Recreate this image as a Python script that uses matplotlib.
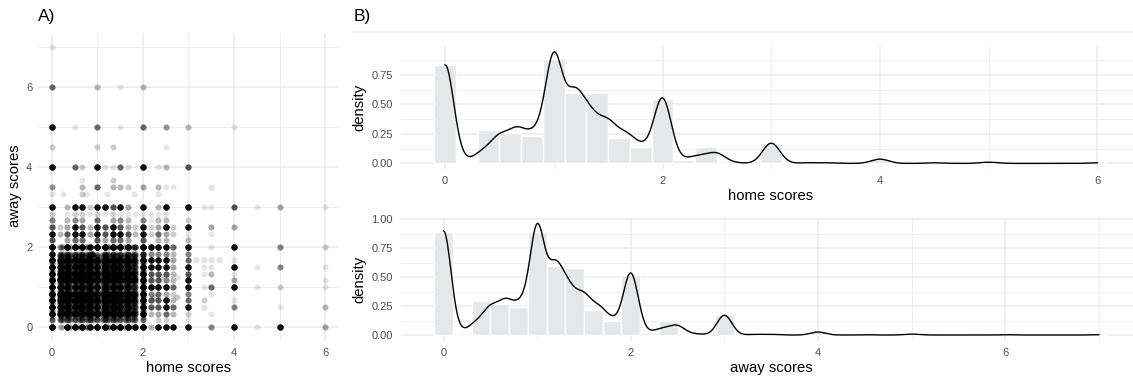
import numpy as np
import matplotlib
matplotlib.use("Agg")
import matplotlib.pyplot as plt
from matplotlib.ticker import MultipleLocator, FormatStrFormatter
from matplotlib.lines import Line2D

plt.rcParams['font.family'] = ['Liberation Sans', 'DejaVu Sans']

W, H = 1133, 380
GRID = '#ebebeb'
TICK = '#4d4d4d'
BAR = '#e6e7e9'

# ---------------------------------------------------------------------------
# Scatter data: average home / away scores per record
# ---------------------------------------------------------------------------
# values found in the dense 0..2 block (used for both axes)
core_vals = [0, 1/6, 1/5, 1/4, 1/3, 3/8, 2/5, 1/2, 3/5, 5/8, 2/3, 3/4, 4/5,
             5/6, 7/8, 9/10, 1, 11/10, 9/8, 7/6, 6/5, 5/4, 4/3, 11/8, 7/5,
             3/2, 8/5, 13/8, 5/3, 7/4, 9/5, 11/6, 2]

# records per cell of one away row, one character per home value in core_vals
# order.  Digits are counts, A = 15, B = 25, C = 40.
ROW_2 = "C444C14C41" "C45B11C11C" "55C14C41C4" "3AC"
ROW_11_6 = "B333813831" "8338A11118" "3381383183" "25A"
ROW_EDGE = "3633723732" "7337227227" "3372373273" "344"
ROW_SIXTH = "CB99C49C94" "C99C44C44C" "99C49C94C7" "69C"
ROW_FIFTH = "5866936963" "9669339339" "6693696395" "456"
ROW_EIGHTH = "3433523532" "5335225225" "3352353253" "234"
ROW_LOW = "3222412421" "4224114114" "2241242142" "223"
ROW_1_6 = "6433623632" "6336226226" "3362363263" "335"
ROW_0 = "C131C14C41" "C46B11C11C" "54C14C41C3" "3BC"

core_away = [2, 11/6, 9/5, 7/4, 5/3, 13/8, 8/5, 3/2, 7/5, 11/8, 4/3, 5/4,
             6/5, 7/6, 9/8, 11/10, 1, 9/10, 7/8, 5/6, 4/5, 3/4, 2/3, 5/8,
             3/5, 1/2, 2/5, 3/8, 1/3, 1/4, 1/5, 1/6, 0]
core_counts = [ROW_2, ROW_11_6, ROW_EDGE, ROW_EDGE, ROW_SIXTH, ROW_EIGHTH,
               ROW_FIFTH, ROW_SIXTH, ROW_FIFTH, ROW_EIGHTH, ROW_SIXTH,
               ROW_FIFTH, ROW_FIFTH, ROW_SIXTH, ROW_EIGHTH, ROW_EIGHTH,
               ROW_SIXTH, ROW_EIGHTH, ROW_EIGHTH, ROW_SIXTH, ROW_FIFTH,
               ROW_FIFTH, ROW_SIXTH, ROW_EIGHTH, ROW_FIFTH, ROW_SIXTH,
               ROW_FIFTH, ROW_EIGHTH, ROW_SIXTH, ROW_LOW, ROW_LOW, ROW_1_6,
               ROW_0]

# records outside the dense block, row by row (away value in the comment)
outer_home = [
    0,                                                                  # 7
    0, 1, 3/2, 2,                                                       # 6
    0, 1/2, 1, 3/2, 2, 5/2, 3, 4,                                       # 5
    0, 1, 4/3, 5/2,                                                     # 9/2
    0, 1/2, 2/3, 1, 7/6, 4/3, 3/2, 5/3, 2, 7/3, 5/2, 3,                 # 4
    2/3, 4/3,                                                           # 11/3
    0, 2/3, 1, 4/3, 3/2, 5/3, 2, 7/3, 5/2, 8/3, 7/2,                    # 7/2
    0, 1/4, 2/3, 3/4, 6/5, 9/5, 7/3,                                    # 10/3
    0, 1/3, 1/2, 2/3, 5/6, 1, 7/6, 4/3, 3/2, 5/3, 2, 7/3, 5/2, 3,
    10/3, 7/2, 4, 9/2, 5, 6,                                            # 3
    0, 1/3, 1/2, 2/3, 5/6, 1, 7/6, 4/3, 3/2, 5/3, 11/6, 2, 13/6, 7/3,
    5/2,                                                                # 17/6
    0, 1/3, 1/2, 2/3, 1, 4/3, 3/2, 5/3, 2, 13/6, 7/3, 5/2, 3,           # 8/3
    0, 1/6, 1/3, 1/2, 2/3, 5/6, 1, 7/6, 4/3, 3/2, 5/3, 11/6, 2, 13/6,
    7/3, 5/2, 8/3, 3, 7/2, 4,                                           # 5/2
    0, 1/6, 1/3, 1/2, 2/3, 5/6, 1, 7/6, 4/3, 3/2, 5/3, 11/6, 2, 13/6,
    7/3, 5/2, 8/3, 3, 7/2,                                              # 7/3
    0, 1/3, 1/2, 2/3, 1, 7/6, 4/3, 3/2, 5/3, 2, 7/3, 5/2, 3,            # 13/6
    13/6, 7/3, 5/2, 8/3, 3, 7/2, 4, 5, 6,                               # 2
    13/6, 7/3, 5/2, 8/3, 3,                                             # 11/6
    13/6, 7/3, 5/2, 8/3, 3, 19/6, 10/3, 7/2, 11/3, 4,                   # 5/3
    13/6, 7/3, 5/2, 8/3, 3, 10/3, 7/2, 4, 9/2, 5, 6,                    # 3/2
    13/6, 7/3, 5/2, 8/3, 3, 10/3, 7/2, 4,                               # 4/3
    12/5, 11/4,                                                         # 5/4
    13/6, 7/3, 5/2, 8/3, 3, 4, 6,                                       # 7/6
    13/6, 9/4, 7/3, 5/2, 8/3, 3, 10/3, 7/2, 4, 9/2, 5, 6,               # 1
    13/6, 7/3, 5/2, 8/3, 3, 7/2,                                        # 5/6
    9/4, 11/4,                                                          # 3/4
    13/6, 7/3, 5/2, 8/3, 3, 10/3, 4,                                    # 2/3
    13/6, 7/3, 5/2, 8/3, 3, 10/3, 4, 5, 6,                              # 1/2
    13/6, 7/3, 5/2, 8/3, 3, 7/2,                                        # 1/3
    7/3, 5/2, 3,                                                        # 1/6
    13/6, 7/3, 5/2, 8/3, 3, 7/2, 4, 9/2, 5, 6,                          # 0
]
outer_away = (
    [7] * 1 + [6] * 4 + [5] * 8 + [9/2] * 4 + [4] * 12 + [11/3] * 2 +
    [7/2] * 11 + [10/3] * 7 + [3] * 20 + [17/6] * 15 + [8/3] * 13 +
    [5/2] * 20 + [7/3] * 19 + [13/6] * 13 + [2] * 9 + [11/6] * 5 +
    [5/3] * 10 + [3/2] * 11 + [4/3] * 8 + [5/4] * 2 + [7/6] * 7 +
    [1] * 12 + [5/6] * 6 + [3/4] * 2 + [2/3] * 7 + [1/2] * 9 +
    [1/3] * 6 + [1/6] * 3 + [0] * 10
)
outer_n = [
    1,
    8, 3, 1, 3,
    25, 1, 8, 1, 8, 5, 3, 1,
    2, 2, 2, 1,
    25, 8, 2, 25, 1, 1, 8, 1, 25, 1, 3, 10,
    1, 2,
    5, 3, 8, 3, 3, 2, 4, 3, 1, 1, 1,
    1, 1, 2, 1, 1, 1, 1,
    25, 3, 25, 25, 2, 25, 25, 10, 25, 4, 25, 3, 25, 25,
    1, 1, 10, 1, 4, 1,
    2, 1, 2, 2, 1, 2, 1, 2, 1, 1, 1, 1, 1, 1,
    1,
    6, 3, 6, 4, 8, 4, 6, 3, 6, 1, 3, 3, 2,
    10, 2, 4, 25, 10, 3, 25, 10, 25, 10, 4, 2, 25, 2,
    4, 25, 2, 25, 4, 4,
    25, 3, 10, 25, 25, 4, 25, 10, 25, 25, 10, 3, 25, 2,
    8, 4, 2, 1, 1,
    10, 4, 8, 8, 10, 4, 8, 8, 4, 10, 3, 3, 3,
    25, 25, 25, 8, 25, 1, 25, 6, 2,
    6, 6, 6, 3, 6,
    25, 25, 25, 4, 8, 1, 1, 1, 1, 1,
    25, 25, 25, 4, 25, 1, 1, 25, 1, 6, 1,
    10, 10, 10, 3, 10, 1, 3, 1,
    2, 1,
    10, 10, 6, 3, 25, 4, 1,
    25, 2, 25, 25, 8, 25, 1, 8, 25, 1, 2, 1,
    6, 8, 4, 2, 6, 1,
    2, 2,
    10, 10, 25, 3, 8, 2, 1,
    10, 10, 25, 8, 25, 1, 6, 1, 3,
    3, 4, 8, 3, 2, 1,
    2, 2, 1,
    3, 25, 25, 25, 25, 6, 25, 1, 25, 4,
]

# ---------------------------------------------------------------------------
# Marginal distributions (records per value) used for histograms + densities
# ---------------------------------------------------------------------------
home_vals = [0, 1/6, 1/5, 1/4, 1/3, 2/5, 1/2, 3/5, 2/3, 3/4, 4/5, 5/6, 1,
             7/6, 6/5, 5/4, 4/3, 7/5, 3/2, 8/5, 5/3, 7/4, 9/5, 11/6, 2,
             13/6, 9/4, 7/3, 12/5, 5/2, 8/3, 3, 10/3, 7/2, 4, 9/2, 5, 6]
home_n = [322, 2, 2, 2, 24, 14, 70, 20, 80, 12, 16, 60, 340,
          120, 50, 60, 90, 40, 100, 24, 60, 16, 12, 24, 210,
          6, 6, 16, 6, 30, 2, 66, 2, 2, 14, 2, 4, 2]

away_vals = [0, 1/6, 1/5, 1/4, 1/3, 2/5, 1/2, 3/5, 2/3, 3/4, 4/5, 5/6, 1,
             7/6, 6/5, 5/4, 4/3, 7/5, 3/2, 8/5, 5/3, 7/4, 9/5, 11/6, 2,
             13/6, 9/4, 7/3, 12/5, 5/2, 8/3, 11/4, 3, 10/3, 7/2, 4, 9/2, 5,
             6, 7]
away_n = [347, 3, 3, 2, 26, 14, 74, 20, 83, 12, 16, 66, 349,
          120, 54, 60, 90, 38, 99, 24, 59, 14, 10, 22, 204,
          4, 4, 14, 6, 28, 3, 1, 66, 2, 2, 10, 1, 3,
          1, 1]

home_bw = 0.080
away_bw = 0.079
bin_width = 0.2


def decode(row):
    levels = {'A': 15, 'B': 25, 'C': 40}
    return [levels[c] if c in levels else int(c) for c in row]


fig = plt.figure(figsize=(W / 100, H / 100), dpi=100)


def px_axes(left, top, right, bottom):
    return fig.add_axes([left / W, 1 - bottom / H, (right - left) / W, (bottom - top) / H])


def minimal(ax, xstep, ystep, yfmt, ypad):
    for s in ax.spines.values():
        s.set_visible(False)
    ax.xaxis.set_major_locator(MultipleLocator(xstep))
    ax.xaxis.set_minor_locator(MultipleLocator(xstep / 2))
    ax.yaxis.set_major_locator(MultipleLocator(ystep))
    ax.yaxis.set_minor_locator(MultipleLocator(ystep / 2))
    ax.yaxis.set_major_formatter(FormatStrFormatter(yfmt))
    ax.grid(True, which='major', color=GRID, lw=1.1)
    ax.grid(True, which='minor', color=GRID, lw=0.6)
    ax.tick_params(which='both', length=0, labelsize=8.0, labelcolor=TICK)
    ax.tick_params(axis='x', pad=5.0)
    ax.tick_params(axis='y', pad=ypad)
    ax.set_axisbelow(True)


# ---------------------------------------------------------------- panel A
axA = px_axes(38.3, 33, 338.7, 341)
cx, cy, cn = [], [], []
for yv, row in zip(core_away, core_counts):
    for xv, n in zip(core_vals, decode(row)):
        cx.append(xv)
        cy.append(yv)
        cn.append(n)
all_x = np.array(cx + outer_home, float)
all_y = np.array(cy + list(outer_away), float)
all_n = np.array(cn + outer_n, int)
axA.scatter(np.repeat(all_x, all_n), np.repeat(all_y, all_n), s=19,
            c='black', alpha=0.1, linewidths=0, zorder=2)
axA.set_xlim(-0.3, 6.3)
axA.set_ylim(-0.35, 7.35)
minimal(axA, 2, 2, '%d', 4.3)


# ---------------------------------------------------------------- panel B
def hist_density(ax, vals, n, bw):
    vals = np.asarray(vals, float)
    n = np.asarray(n, float)
    total = n.sum()
    k0 = int(round(vals.min() / bin_width))
    k1 = int(round(vals.max() / bin_width))
    centers = np.arange(k0, k1 + 1) * bin_width
    edges = np.append(centers - bin_width / 2, centers[-1] + bin_width / 2) + 1e-9
    counts, _ = np.histogram(vals, bins=edges, weights=n)
    dens = counts / total / bin_width
    ax.bar(centers, dens, width=bin_width, color=BAR, edgecolor='white',
           linewidth=1.0, zorder=2)
    xs = np.linspace(vals.min(), vals.max(), 800)
    ys = (n[None, :] * np.exp(-0.5 * ((xs[:, None] - vals[None, :]) / bw) ** 2)).sum(1)
    ys /= total * bw * np.sqrt(2 * np.pi)
    ax.plot(xs, ys, color='black', lw=1.0, zorder=3)
    top = max(dens.max(), ys.max())
    ax.set_ylim(-0.05 * top, 1.05 * top)
    lo, hi = centers[0] - bin_width / 2, centers[-1] + bin_width / 2
    ax.set_xlim(lo - 0.05 * (hi - lo), hi + 0.05 * (hi - lo))


axB1 = px_axes(400.5, 46.3, 1142, 169)
hist_density(axB1, home_vals, home_n, home_bw)
minimal(axB1, 2, 0.25, '%.2f', 5.4)

axB2 = px_axes(400.5, 217.8, 1142, 340.6)
hist_density(axB2, away_vals, away_n, away_bw)
minimal(axB2, 2, 0.25, '%.2f', 5.4)

# ---------------------------------------------------------------- titles
title_kw = dict(fontsize=10.7, color='black')
fig.text(188.5 / W, 1 - 372.5 / H, 'home scores', ha='center', va='baseline', **title_kw)
fig.text(15.5 / W, 1 - 186 / H, 'away scores', ha='center', va='center', rotation=90, **title_kw)
fig.text(771 / W, 1 - 199.5 / H, 'home scores', ha='center', va='baseline', **title_kw)
fig.text(771 / W, 1 - 372 / H, 'away scores', ha='center', va='baseline', **title_kw)
fig.text(359 / W, 1 - 107.6 / H, 'density', ha='center', va='center', rotation=90, **title_kw)
fig.text(359 / W, 1 - 279.2 / H, 'density', ha='center', va='center', rotation=90, **title_kw)

fig.text(38.3 / W, 1 - 21 / H, 'A)', ha='left', va='baseline', fontsize=12.5, color='black')
fig.text(353.3 / W, 1 - 21 / H, 'B)', ha='left', va='baseline', fontsize=12.5, color='black')
fig.add_artist(Line2D([353 / W, 1.0], [1 - 32 / H, 1 - 32 / H], color=GRID, lw=1.1))

fig.savefig('out.png', dpi=100)
